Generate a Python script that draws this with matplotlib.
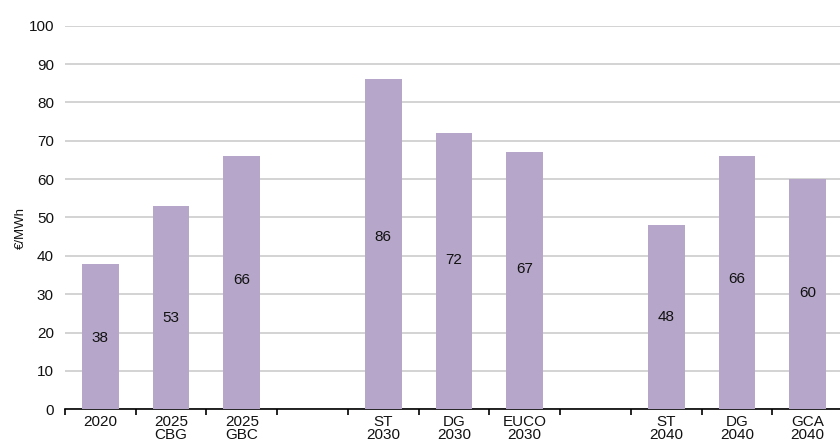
import matplotlib
matplotlib.use("Agg")
import matplotlib.pyplot as plt
import numpy as np

plt.rcParams['font.family'] = ['Liberation Sans', 'DejaVu Sans']

categories = ["2020", "2025\nCBG", "2025\nGBC", "", "ST\n2030", "DG\n2030", "EUCO\n2030", "", "ST\n2040", "DG\n2040", "GCA\n2040"]
values = [38, 53, 66, None, 86, 72, 67, None, 48, 66, 60]
# vertical position (in data units) of each value label inside its bar
label_y = [18.5, 23.7, 33.7, None, 44.8, 38.9, 36.6, None, 24.0, 33.9, 30.2]
y_ticks = [0, 10, 20, 30, 40, 50, 60, 70, 80, 90, 100]
y_label = "€/MWh"

bar_color = "#b6a7ca"
grid_color = "#cccccc"
text_color = "#111111"

fig = plt.figure(figsize=(8.4, 4.48), dpi=100)
ax = fig.add_axes([65/840, (448-409.3)/448, 778/840, (409.3-25.7)/448])

x = np.arange(len(categories))
for xi, v, ly in zip(x, values, label_y):
    if v is None:
        continue
    ax.bar(xi, v, width=0.52, color=bar_color, zorder=3)
    ax.text(xi, ly, str(v), ha='center', va='center', fontsize=11, color=text_color, zorder=4)

ax.set_xlim(-0.5, len(categories)-0.5)
ax.set_ylim(0, 100)
ax.set_yticks(y_ticks)
ax.yaxis.grid(True, color=grid_color, linewidth=1.2, zorder=0)
ax.set_axisbelow(True)

ax.set_xticks(x)
ax.set_xticklabels(categories, fontsize=11, color=text_color, linespacing=0.95)
ax.tick_params(axis='x', which='major', length=0, pad=4)
ax.set_xticks(np.arange(-0.5, len(categories)), minor=True)
ax.tick_params(axis='x', which='minor', length=4, width=1.2, color='black', direction='out')

ax.tick_params(axis='y', length=0, pad=8, labelsize=11, labelcolor=text_color)

for s in ['top', 'right', 'left']:
    ax.spines[s].set_visible(False)
ax.spines['bottom'].set_linewidth(1.2)
ax.spines['bottom'].set_color('black')

ax.set_ylabel(y_label, fontsize=9.5, color=text_color)
ax.yaxis.set_label_coords((27-65)/778, (409.3-228)/383.6)

fig.savefig("out.png", dpi=100)
